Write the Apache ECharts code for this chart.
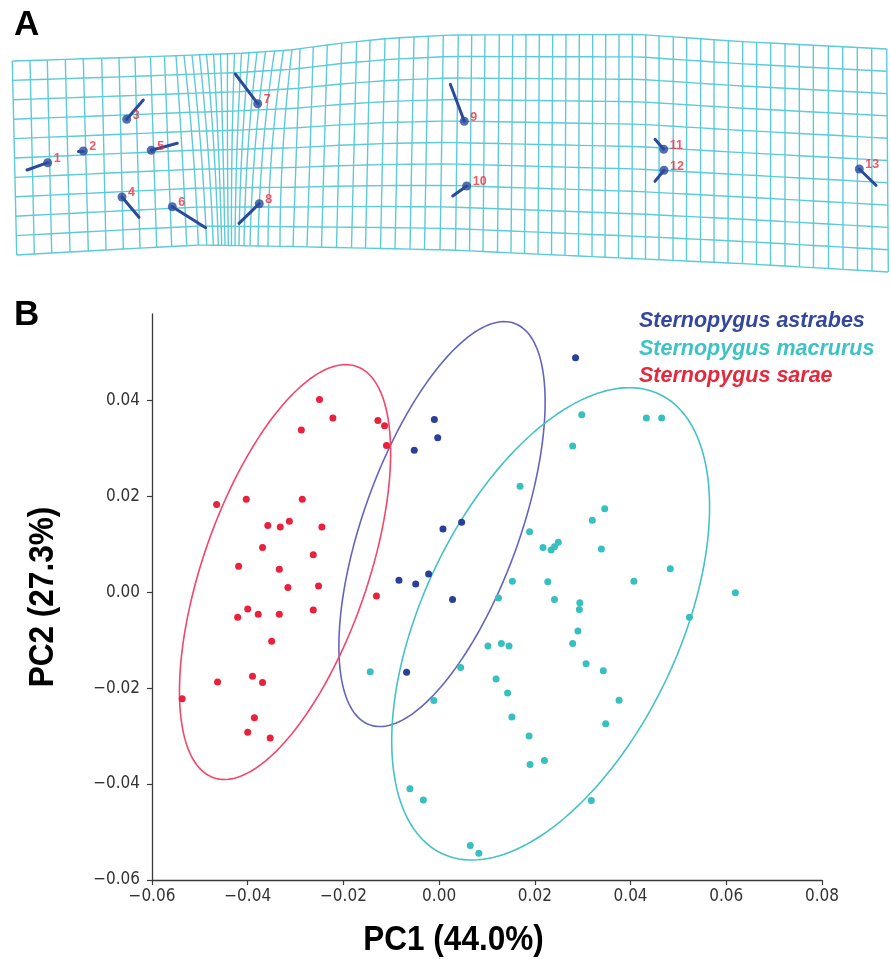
<!DOCTYPE html>
<html><head><meta charset="utf-8">
<script src="https://cdn.jsdelivr.net/npm/echarts@6/dist/echarts.min.js"></script>
<style>html,body{margin:0;padding:0;background:#fff}#c{width:891px;height:959px}</style>
</head><body><div id="c"></div>
<script>
// ---------- Panel B data (PC scores) ----------
const speciesNames = ['Sternopygus astrabes', 'Sternopygus macrurus', 'Sternopygus sarae'];
const speciesColors = ['#2c3f96', '#38bfc0', '#e8213d'];
const legendColors = ['#34479f', '#3cc3c3', '#e5283c'];
const ellipseColors = ['#6464bf', '#45c2c4', '#f2466a'];

const astrabesX = [0.0285, -0.0010, -0.0003, -0.0052, 0.0047, 0.0008, -0.0084, -0.0049, -0.0022, 0.0028, -0.0068];
const astrabesY = [0.0489, 0.0360, 0.0322, 0.0296, 0.0146, 0.0132, 0.0025, 0.0017, 0.0038, -0.0015, -0.0167];

const macrurusX = [0.0298, 0.0433, 0.0465, 0.0279, 0.0169, 0.0346, 0.0320, 0.0189, 0.0217, 0.0234, 0.0241, 0.0249, 0.0339, 0.0483, 0.0153, 0.0227, 0.0407, 0.0619, 0.0124, 0.0241, 0.0294, 0.0293, 0.0523, 0.0290, 0.0279, 0.0102, 0.0130, 0.0146, 0.0045, 0.0307, 0.0343, 0.0119, 0.0143, 0.0376, -0.0011, 0.0152, 0.0348, 0.0188, 0.0220, 0.0190, -0.0061, -0.0033, 0.0318, 0.0065, 0.0083, -0.0144];
const macrurusY = [0.0370, 0.0363, 0.0363, 0.0305, 0.0221, 0.0174, 0.0150, 0.0126, 0.0093, 0.0088, 0.0095, 0.0104, 0.0090, 0.0049, 0.0023, 0.0022, 0.0023, -0.0001, -0.0012, -0.0015, -0.0022, -0.0036, -0.0052, -0.0081, -0.0107, -0.0112, -0.0107, -0.0112, -0.0157, -0.0149, -0.0164, -0.0181, -0.0210, -0.0225, -0.0226, -0.0260, -0.0274, -0.0300, -0.0351, -0.0359, -0.0410, -0.0433, -0.0434, -0.0528, -0.0544, -0.0166];

const saraeX = [-0.0250, -0.0222, -0.0288, -0.0128, -0.0114, -0.0110, -0.0465, -0.0403, -0.0286, -0.0358, -0.0332, -0.0313, -0.0245, -0.0369, -0.0263, -0.0419, -0.0334, -0.0316, -0.0252, -0.0131, -0.0400, -0.0421, -0.0378, -0.0334, -0.0263, -0.0350, -0.0463, -0.0390, -0.0369, -0.0537, -0.0386, -0.0400, -0.0353];
const saraeY = [0.0402, 0.0363, 0.0338, 0.0358, 0.0347, 0.0306, 0.0183, 0.0194, 0.0194, 0.0139, 0.0136, 0.0148, 0.0136, 0.0093, 0.0078, 0.0054, 0.0048, 0.0010, 0.0013, -0.0008, -0.0035, -0.0052, -0.0046, -0.0046, -0.0037, -0.0102, -0.0187, -0.0175, -0.0188, -0.0222, -0.0262, -0.0292, -0.0304];

// confidence ellipses (astrabes, macrurus, sarae)
const ellipseCenterX = [0.0006, 0.0233, -0.0322];
const ellipseCenterY = [0.0142, -0.0066, 0.0042];
const ellipseSemiMajor = [0.0445, 0.0530, 0.0454];
const ellipseSemiMinor = [0.0163, 0.0268, 0.0172];
const ellipseAngleDeg = [70.1, 64.6, 70.8];

const xTicks = [-0.06, -0.04, -0.02, 0.00, 0.02, 0.04, 0.06, 0.08];
const yTicks = [-0.06, -0.04, -0.02, 0.00, 0.02, 0.04];
const xTitle = 'PC1 (44.0%)';
const yTitle = 'PC2 (27.3%)';

// ---------- Panel A data (landmarks & deformation grid, panel pixel units) ----------
const landmarkLabels = ['1','2','3','4','5','6','7','8','9','10','11','12','13'];
const landmarkX = [47.7, 83.3, 126.7, 122, 151.3, 172.3, 257.7, 259.3, 464.3, 466.7, 663.7, 664, 859.3];
const landmarkY = [162.7, 151, 119.3, 197, 150.3, 206.7, 103.7, 203.7, 121.3, 186, 149.3, 170.3, 169];
const vectorEndX = [27, 78.5, 143.3, 139, 177.3, 205.7, 235.3, 239, 450.3, 452.7, 655, 655, 876];
const vectorEndY = [170, 151, 100, 217.3, 143.3, 227.7, 74, 223.3, 84.3, 196, 139.3, 181.3, 185.3];

const gridTopEdge = [[12.3,61],[133,57.3],[240,53.3],[290,50],[340,43.3],[390,38.3],[450,35],[640,34.5],[740,41.5],[887,49]];
const gridBottomEdge = [[16.7,255],[133,248.5],[200,245],[290,246.5],[450,250],[600,257],[750,264],[888.3,272]];
const gridRowCount = 10;
const columnTopX = [12.3,30,47.3,65.3,83.3,101.7,119,135,150.5,164.5,
  176,184,192,199.5,206.5,213.5,220.5,227.5,234.5,241.5,249,257,265.5,274.5,283.5,292,
  300,313.3,327.3,341.7,356.7,370,385,399.3,414,428.3,443.3,458.3,471.7,485,499.3,512.7,526,539.3,552.7,566,579.3,592.7,605.7,619,632.3,645.7,659,673.3,686.7,700.7,714,728.3,742.7,756.7,770.7,785,799.3,813.3,828.3,842.7,857.3,871.7,886.7];
const columnMidX = [14.5,32.2,49.5,67.7,85.8,103.9,121.2,137.5,153.6,168.1,
  182,193,201,208,214,218.5,223,227.5,232,237,242,248,255,263,272,283,
  296.5,310.2,324.4,339.1,354.1,367.8,382.8,397.2,412,426.4,441.7,456.9,470.6,484,498.4,511.9,525.3,538.7,552.1,565.5,578.9,592.4,605.4,618.8,632.2,645.6,659,673.2,686.6,700.6,714,728.2,742.6,756.6,770.6,785,799.4,813.4,828.4,842.9,857.4,871.9,887.5];
const columnBottomX = [16.7,34.3,51.7,70,88.3,106,123.3,140,156.7,171.7,
  186.7,198.3,206.7,213.3,218.3,221.7,225,228.3,231.5,235,239,244,250,258,268,280,
  293,307,321.5,336.5,351.5,365.5,380.5,395,410,424.5,440,455.5,469.5,483,497.5,511,524.5,538,551.5,565,578.5,592,605,618.5,632,645.5,659,673,686.5,700.5,714,728,742.5,756.5,770.5,785,799.5,813.5,828.5,843,857.5,872,888.3];

// ---------- build ----------
function edgeAt(edge, x) {
  let i = 0;
  while (i < edge.length - 2 && x > edge[i + 1][0]) i++;
  const [x0, y0] = edge[i], [x1, y1] = edge[i + 1];
  return y0 + (y1 - y0) * (x - x0) / (x1 - x0);
}
function meshPoint(i, t) {
  const a = columnTopX[i], m = columnMidX[i], b = columnBottomX[i];
  const x = a * 2 * (t - 0.5) * (t - 1) - m * 4 * t * (t - 1) + b * 2 * t * (t - 0.5);
  const y = (1 - t) * edgeAt(gridTopEdge, a) + t * edgeAt(gridBottomEdge, b);
  return [x, y];
}
const meshLines = [];
for (let j = 0; j <= gridRowCount; j++) {
  const t = j / gridRowCount, coords = [];
  for (let i = 0; i < columnTopX.length; i++) coords.push(meshPoint(i, t));
  meshLines.push({ coords });
}
for (let i = 0; i < columnTopX.length; i++) {
  const coords = [];
  for (let k = 0; k <= 20; k++) coords.push(meshPoint(i, k / 20));
  meshLines.push({ coords });
}
const vectorLines = landmarkX.map((x, i) => ({ coords: [[x, landmarkY[i]], [vectorEndX[i], vectorEndY[i]]] }));
const landmarkPts = landmarkX.map((x, i) => ({ name: landmarkLabels[i], value: [x, landmarkY[i]] }));

function zip(xs, ys) { return xs.map((x, i) => [x, ys[i]]); }
function ellipsePts(k) {
  const th = ellipseAngleDeg[k] * Math.PI / 180, pts = [];
  for (let s = 0; s <= 180; s++) {
    const p = s / 180 * 2 * Math.PI;
    const u = ellipseSemiMajor[k] * Math.cos(p), v = ellipseSemiMinor[k] * Math.sin(p);
    pts.push([ellipseCenterX[k] + u * Math.cos(th) - v * Math.sin(th), ellipseCenterY[k] + u * Math.sin(th) + v * Math.cos(th)]);
  }
  return pts;
}
const fmt = v => (v < -1e-9 ? '\u2212' : '') + Math.abs(v).toFixed(2);
const tickFont = "'DejaVu Sans Condensed', 'Liberation Sans Narrow', 'DejaVu Sans', sans-serif";
const boldFont = "'Liberation Sans', Arial, sans-serif";

const chart = echarts.init(document.getElementById('c'), null, { renderer: 'canvas' });
const seriesPts = [zip(astrabesX, astrabesY), zip(macrurusX, macrurusY), zip(saraeX, saraeY)];

const series = [];
[0, 1, 2].forEach(k => {
  series.push({ type: 'line', xAxisIndex: 0, yAxisIndex: 0, data: ellipsePts(k), showSymbol: false, symbol: 'none',
    lineStyle: { color: ellipseColors[k], width: 1.6 }, z: 2, silent: true });
});
[0, 1, 2].forEach(k => {
  series.push({ type: 'scatter', name: speciesNames[k], xAxisIndex: 0, yAxisIndex: 0, data: seriesPts[k],
    symbolSize: 7, itemStyle: { color: speciesColors[k], opacity: 1 }, z: 3 });
});
series.push({ type: 'lines', coordinateSystem: 'cartesian2d', xAxisIndex: 1, yAxisIndex: 1, polyline: true,
  data: meshLines, lineStyle: { color: '#5ccbd6', width: 1.4, opacity: 1 }, silent: true, z: 1 });
series.push({ type: 'lines', coordinateSystem: 'cartesian2d', xAxisIndex: 1, yAxisIndex: 1,
  data: vectorLines, lineStyle: { color: '#2b4a9b', width: 3, opacity: 1, cap: 'round' }, silent: true, z: 3 });
series.push({ type: 'scatter', xAxisIndex: 1, yAxisIndex: 1, data: landmarkPts, symbolSize: 9,
  itemStyle: { color: '#2b4a9b' }, z: 4,
  label: { show: true, formatter: p => p.name, position: 'right', distance: 1.5, offset: [0, -4],
    color: '#f22d3d', fontSize: 12.5, fontWeight: 'bold', fontFamily: boldFont } });

chart.setOption({
  animation: false,
  backgroundColor: '#ffffff',
  grid: [
    { left: 152, right: 69, top: 314, bottom: 79 },
    { left: 0, top: 0, width: 891, height: 280 }
  ],
  legend: {
    data: speciesNames.map((n, k) => ({ name: n, textStyle: { color: legendColors[k] } })),
    orient: 'vertical', left: 634, top: 310.5, padding: 0, icon: 'none', itemWidth: 0, itemHeight: 21, itemGap: 5.5,
    selectedMode: false,
    textStyle: { fontSize: 21.5, fontWeight: 'bold', fontStyle: 'italic', fontFamily: boldFont }
  },
  xAxis: [
    { type: 'value', gridIndex: 0, min: -0.06, max: 0.08, interval: 0.02,
      axisLine: { show: true, onZero: false, lineStyle: { color: '#3a3a3a', width: 1.3 } },
      axisTick: { show: true, length: 5, lineStyle: { color: '#3a3a3a', width: 1.2 } },
      splitLine: { show: false },
      axisLabel: { formatter: fmt, color: '#333', fontSize: 17, fontFamily: tickFont, margin: 8 } },
    { type: 'value', gridIndex: 1, min: 0, max: 891, show: false }
  ],
  yAxis: [
    { type: 'value', gridIndex: 0, min: -0.06, max: 0.058, interval: 0.02,
      axisLine: { show: true, onZero: false, lineStyle: { color: '#3a3a3a', width: 1.3 } },
      axisTick: { show: true, length: 5, customValues: yTicks, lineStyle: { color: '#3a3a3a', width: 1.2 } },
      splitLine: { show: false },
      axisLabel: { formatter: fmt, customValues: yTicks, color: '#333', fontSize: 17, fontFamily: tickFont, margin: 12 } },
    { type: 'value', gridIndex: 1, min: 0, max: 280, inverse: true, show: false }
  ],
  graphic: [
    { type: 'text', x: 14, y: 25, style: { text: 'A', font: "bold 35px " + boldFont, fill: '#000', textVerticalAlign: 'middle' } },
    { type: 'text', x: 14, y: 315, style: { text: 'B', font: "bold 35px " + boldFont, fill: '#000', textVerticalAlign: 'middle' } },
    { type: 'text', x: 453.5, y: 940, scaleX: 0.9,
      style: { text: xTitle, font: "bold 35px " + boldFont, fill: '#000', textAlign: 'center', textVerticalAlign: 'middle' } },
    { type: 'text', x: 43, y: 597, rotation: Math.PI / 2, scaleX: 0.9,
      style: { text: yTitle, font: "bold 35px " + boldFont, fill: '#000', textAlign: 'center', textVerticalAlign: 'middle' } }
  ],
  series
});
</script>
</body></html>
